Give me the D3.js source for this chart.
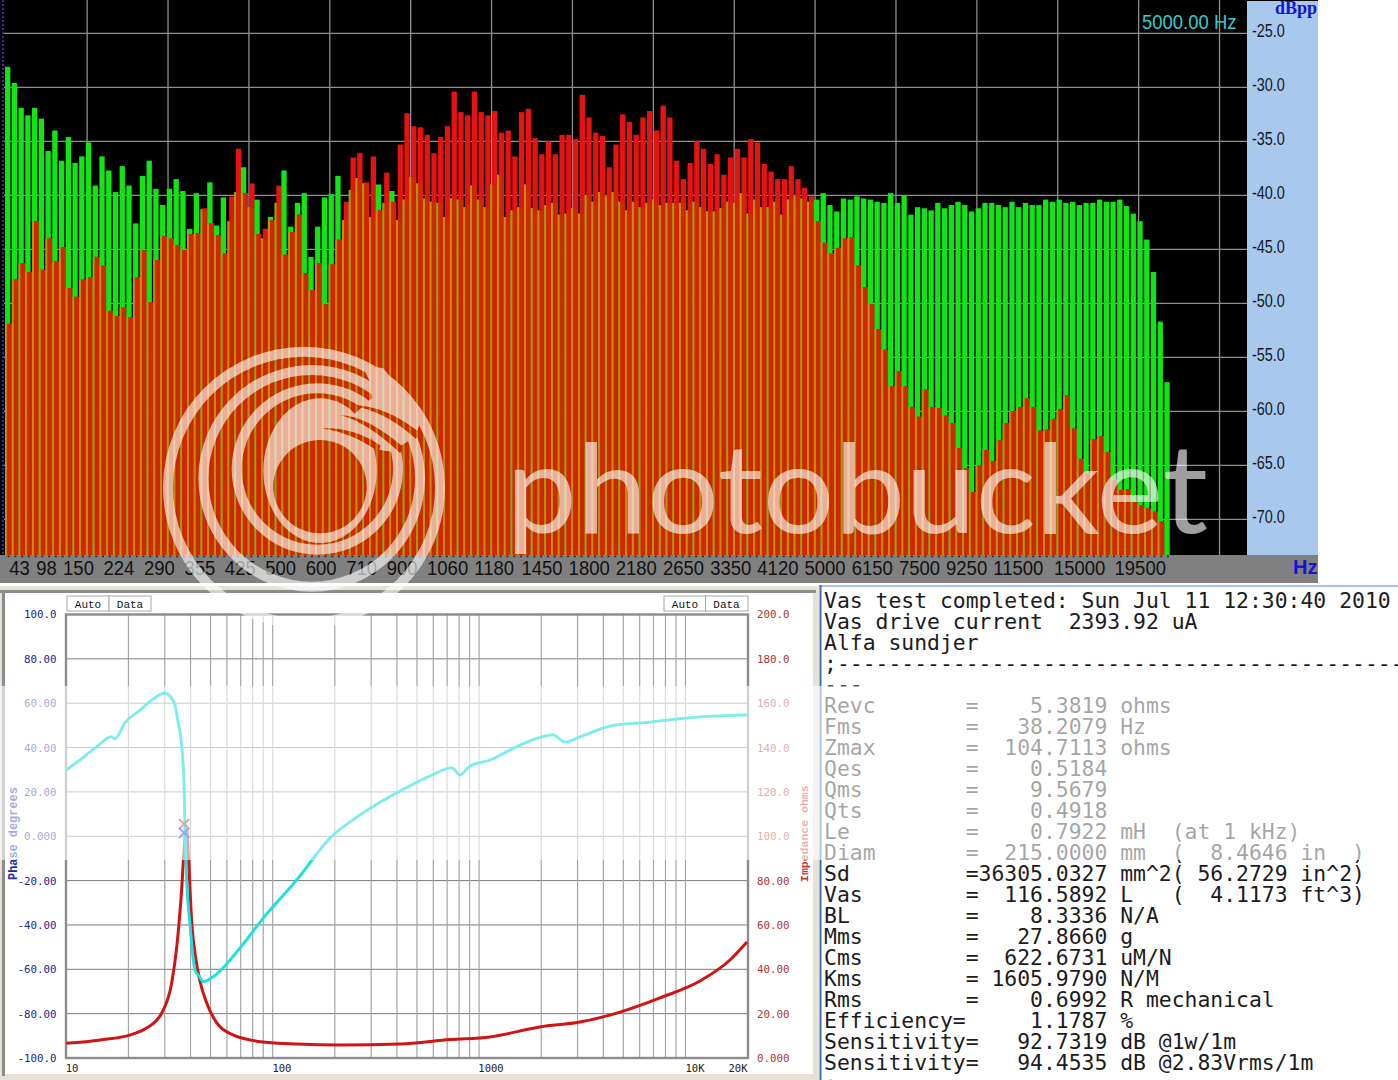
<!DOCTYPE html>
<html>
<head>
<meta charset="utf-8">
<script src="https://cdn.jsdelivr.net/npm/d3@7"></script>
<style>
  html, body { margin: 0; padding: 0; background: #fff; }
  svg { display: block; }
  text { white-space: pre; }
</style>
</head>
<body>
<div id="chart"></div>
<script>
// spectrum bars, one value per band, dBpp
const greenDb = [
  -28.1,-29.6,-31.9,-32.6,-31.9,-32.9,-35.9,-34.0,-36.8,-34.6,-37.0,-36.4,-35.1,-39.1,-36.4,-37.7,-39.7,-37.3,-39.1,-42.6,
  -38.2,-36.8,-39.4,-40.9,-39.4,-38.5,-39.6,-43.1,-39.8,-41.3,-38.8,-42.8,-40.2,-42.4,-39.7,-37.4,-41.1,-40.4,-44.0,-42.0,
  -40.7,-37.7,-42.9,-40.7,-39.8,-45.7,-42.9,-40.2,-39.9,-38.2,-42.3,-39.5,-38.4,-38.9,-42.0,-39.0,-40.7,-39.6,-42.3,-40.4,
  -38.3,-38.9,-40.3,-40.6,-40.7,-42.0,-40.3,-40.4,-41.1,-39.1,-40.4,-41.1,-39.0,-38.1,-42.0,-41.4,-41.1,-39.0,-41.2,-41.4,
  -40.9,-40.7,-41.8,-41.7,-41.2,-41.7,-40.0,-40.6,-39.7,-40.1,-39.7,-40.6,-41.4,-40.6,-41.1,-40.7,-40.4,-40.9,-40.7,-40.7,
  -40.7,-41.4,-40.6,-41.1,-41.5,-41.5,-41.2,-40.6,-40.7,-39.8,-41.7,-40.4,-41.1,-41.1,-40.6,-41.8,-40.4,-40.1,-40.3,-40.6,
  -40.4,-39.8,-40.9,-41.5,-40.3,-40.4,-40.1,-40.3,-40.4,-40.6,-40.7,-39.8,-40.7,-40.0,-41.8,-41.1,-41.2,-41.4,-40.7,-41.2,
  -40.9,-40.6,-40.9,-41.5,-41.2,-40.7,-40.7,-40.9,-41.1,-40.6,-41.1,-40.7,-40.9,-40.9,-40.4,-40.6,-40.4,-40.7,-40.6,-40.9,
  -40.7,-40.7,-40.4,-40.6,-40.6,-40.4,-41.0,-41.7,-42.4,-44.1,-47.1,-51.7,-57.3
];
const redDb = [
  -51.9,-47.8,-46.3,-47.1,-42.4,-46.9,-44.0,-46.1,-44.8,-48.6,-49.4,-47.8,-47.6,-45.7,-46.5,-50.7,-51.2,-50.4,-51.3,-47.6,
  -45.1,-49.9,-46.0,-43.8,-44.0,-44.6,-45.1,-43.6,-43.5,-41.2,-42.6,-43.7,-45.4,-40.1,-35.7,-39.8,-38.9,-43.6,-43.1,-42.3,
  -39.1,-45.5,-43.4,-41.8,-47.2,-48.8,-46.3,-50.1,-46.4,-44.1,-40.6,-36.5,-36.1,-38.8,-36.4,-41.4,-37.9,-40.6,-35.3,-32.4,
  -33.6,-33.7,-34.4,-36.1,-34.6,-33.6,-30.4,-32.3,-32.6,-30.4,-32.3,-32.6,-32.2,-34.2,-34.0,-36.4,-32.3,-32.0,-34.7,-36.2,
  -35.0,-36.2,-34.4,-34.4,-34.8,-30.7,-32.8,-34.2,-34.5,-37.4,-35.3,-32.5,-33.2,-34.4,-32.8,-32.2,-34.0,-31.7,-32.8,-36.8,
  -38.5,-37.0,-35.0,-35.7,-37.1,-36.2,-38.1,-36.5,-35.7,-36.5,-34.8,-35.1,-37.1,-37.8,-38.5,-38.5,-37.3,-38.5,-39.3,-40.1,
  -42.4,-44.4,-45.4,-44.9,-44.0,-43.9,-46.5,-48.5,-50.1,-52.4,-54.3,-57.7,-56.3,-57.7,-59.6,-60.5,-58.0,-59.6,-59.7,-60.4,
  -61.1,-63.4,-65.3,-67.5,-65.0,-63.6,-64.6,-62.7,-61.1,-60.0,-59.6,-58.8,-59.6,-61.8,-61.7,-60.7,-59.8,-58.5,-61.6,-64.4,
  -65.7,-62.6,-62.3,-63.8,-66.4,-67.3,-67.2,-68.4,-68.7,-69.0,-69.3,-70.2,-73.3
];
const floorDb = -73.3;
const dbTicks = [-25,-30,-35,-40,-45,-50,-55,-60,-65,-70];
const hzLabels = ['43','98','150','224','290','355','425','500','600','710','900','1060','1180','1450','1800','2180','2650','3350','4120','5000','6150','7500','9250','11500','15000','19500'];
const hzBand = [0,4,8,14,20,26,32,38,44,50,56,62,69,76,83,90,97,104,111,118,125,132,139,146,155,164];
const gridBand = [12,24,36,48,60,72,84,96,108,120,132,144,156,168,180];

// impedance sweep, log frequency
const phaseFreq = [10,11.65,13.8,16.6,17.2,19.2,22.75,25.4,30.1,31.8,33.6,34.8,36.2,37.2,37.6,38.3,39.7,42,44,46.1,51.5,69.4,90,130.7,189.6,264.8,414,578,739,808,904,1130,1578,2280,2607,3082,4305,6730,11750,19860];
const phaseDeg = [29.9,34.4,39.8,44.9,43.9,51.1,56.9,60.7,64.6,63.2,59.2,51.5,41.1,23.1,2.8,-19.7,-39.1,-60.3,-63,-65.6,-63.3,-50.4,-36.9,-19.7,-0.8,9.6,20.4,27.2,30.8,27.6,31.7,34.4,41.1,45.7,42.5,44.8,49.7,51.5,53.8,54.7];
const impFreq = [10,14.6,21,24.5,29,32.4,34.3,36.2,37.2,38.2,38.9,40.6,42.5,44.5,47.9,53.6,64.2,89.7,130.7,212,414,723,1130,1972,3082,4820,7530,11750,16430,19860];
const impOhms = [6.6,8.1,10.8,13.5,20.3,33.8,50.2,75.8,93.8,104.7,93.8,60,44.2,34.4,24.8,15.8,10.4,7.2,6.3,5.9,6.3,8.3,9.5,14,16.2,20.7,27.1,34.7,44.2,52.3];
const phaseLabels = ['100.0','80.00','60.00','40.00','20.00','0.000','-20.00','-40.00','-60.00','-80.00','-100.0'];
const impLabels = ['200.0','180.0','160.0','140.0','120.0','100.0','80.00','60.00','40.00','20.00','0.000'];
const freqLabels = ['10','100','1000','10K','20K'];
const freqLabelAt = [10.66,110.9,1142,11120,17970];
const markerFreq = 37.2;
const markerOhms = 105.5;
const markerDeg = 1.5;

const report = [
  'Vas test completed: Sun Jul 11 12:30:40 2010',
  'Vas drive current  2393.92 uA',
  'Alfa sundjer',
  ';--------------------------------------------',
  '---',
  'Revc       =    5.3819 ohms',
  'Fms        =   38.2079 Hz',
  'Zmax       =  104.7113 ohms',
  'Qes        =    0.5184',
  'Qms        =    9.5679',
  'Qts        =    0.4918',
  'Le         =    0.7922 mH  (at 1 kHz)',
  'Diam       =  215.0000 mm  (  8.4646 in  )',
  'Sd         =36305.0327 mm^2( 56.2729 in^2)',
  'Vas        =  116.5892 L   (  4.1173 ft^3)',
  'BL         =    8.3336 N/A',
  'Mms        =   27.8660 g',
  'Cms        =  622.6731 uM/N',
  'Kms        = 1605.9790 N/M',
  'Rms        =    0.6992 R mechanical',
  'Efficiency=     1.1787 %',
  'Sensitivity=   92.7319 dB @1w/1m',
  'Sensitivity=   94.4535 dB @2.83Vrms/1m',
  ';'
];

const svg = d3.select('#chart').append('svg').attr('width', 1398).attr('height', 1080);
const arial = 'Liberation Sans';
const mono = 'DejaVu Sans Mono';

// ---- top spectrum ----
const barX = d3.scaleLinear().domain([0, 172]).range([7.67, 1167]);
const dbY = d3.scaleLinear().domain([-25, -70]).range([33.3, 519.3]);
const baseY = dbY(floorDb);

svg.append('rect').attr('x', 0).attr('y', 0).attr('width', 1247).attr('height', 555).attr('fill', '#000');
svg.append('rect').attr('x', 1247).attr('y', 0).attr('width', 71).attr('height', 555).attr('fill', '#a8c8ee');
svg.append('rect').attr('x', 0).attr('y', 0).attr('width', 1318).attr('height', 1).attr('fill', '#000');
svg.append('rect').attr('x', 0).attr('y', 555).attr('width', 1318).attr('height', 28).attr('fill', '#808080');

svg.append('g').selectAll('line').data(dbTicks).enter().append('line')
  .attr('x1', 4).attr('x2', 1247)
  .attr('y1', d => dbY(d)).attr('y2', d => dbY(d))
  .attr('stroke', '#8e8e8e').attr('stroke-width', 1.3);
svg.append('g').selectAll('line').data(gridBand).enter().append('line')
  .attr('x1', d => barX(d) - 1.4).attr('x2', d => barX(d) - 1.4)
  .attr('y1', 0).attr('y2', 555)
  .attr('stroke', '#8e8e8e').attr('stroke-width', 1.3);

svg.append('line').attr('x1', 3).attr('x2', 3).attr('y1', 0).attr('y2', 555)
  .attr('stroke', '#4a22a8').attr('stroke-width', 2).attr('stroke-dasharray', '2,2');

const bands = svg.append('g').selectAll('g').data(d3.range(greenDb.length)).enter().append('g');
const barW = 5.3;
const overlapTop = i => Math.max(dbY(greenDb[i]), dbY(redDb[i]));
// green sits 1.7px left of red, only a sliver of it shows where they overlap
bands.append('rect')
  .attr('x', i => barX(i) - barW / 2).attr('width', barW)
  .attr('y', i => dbY(greenDb[i])).attr('height', i => Math.max(0, baseY - dbY(greenDb[i])))
  .attr('fill', '#10e614');
bands.append('rect')
  .attr('x', i => barX(i) - barW / 2 + 1.7).attr('width', barW)
  .attr('y', i => dbY(redDb[i])).attr('height', i => Math.max(0, baseY - dbY(redDb[i])))
  .attr('fill', '#e81212');
bands.append('rect')
  .attr('x', i => barX(i) - barW / 2).attr('width', 2.1)
  .attr('y', overlapTop).attr('height', i => Math.max(0, baseY - overlapTop(i)))
  .attr('fill', '#b8920e');
bands.append('rect')
  .attr('x', i => barX(i) - barW / 2 + 2.1).attr('width', barW - 0.66)
  .attr('y', overlapTop).attr('height', i => Math.max(0, baseY - overlapTop(i)))
  .attr('fill', '#d42400');

// little ticks along the top of the Hz strip
svg.append('g').selectAll('rect').data(d3.range(greenDb.length)).enter().append('rect')
  .attr('x', i => barX(i)).attr('y', 555.5).attr('width', 2).attr('height', 1.8).attr('fill', '#2c2c2c');

svg.append('g').selectAll('text').data(dbTicks).enter().append('text')
  .attr('transform', d => `translate(1252,${dbY(d) + 3.5}) scale(0.8,1)`)
  .attr('font-family', arial).attr('font-size', 18).attr('fill', '#101820')
  .text(d => d.toFixed(1));

svg.append('g').selectAll('text').data(hzLabels).enter().append('text')
  .attr('transform', (d, i) => `translate(${barX(hzBand[i]) + 1.5},575) scale(0.88,1)`)
  .attr('font-family', arial).attr('font-size', 21).attr('fill', '#111')
  .text(d => d);

svg.append('text').attr('transform', 'translate(1142,29) scale(0.88,1)')
  .attr('font-family', arial).attr('font-size', 21).attr('fill', '#38c8c8').text('5000.00 Hz');
svg.append('text').attr('x', 1275).attr('y', 14)
  .attr('font-family', 'Liberation Serif').attr('font-weight', 'bold').attr('font-size', 18).attr('fill', '#1414d8').text('dBpp');
svg.append('text').attr('x', 1293).attr('y', 574)
  .attr('font-family', arial).attr('font-weight', 'bold').attr('font-size', 20).attr('fill', '#1414d8').text('Hz');
svg.append('rect').attr('x', 1318).attr('y', 0).attr('width', 80).attr('height', 584).attr('fill', '#fff');

// ---- bottom impedance panel ----
svg.append('rect').attr('x', 0).attr('y', 586).attr('width', 819).attr('height', 494).attr('fill', '#e6e2d6');
svg.append('rect').attr('x', 5).attr('y', 592).attr('width', 808).attr('height', 482).attr('fill', '#fff');
svg.append('rect').attr('x', 0).attr('y', 590).attr('width', 816).attr('height', 3).attr('fill', '#8c8c8c');
svg.append('rect').attr('x', 2).attr('y', 590).attr('width', 3).attr('height', 486).attr('fill', '#8c8c8c');

const freqX = d3.scaleLog().domain([10, 20000]).range([66.3, 747.6]);
const phaseY = d3.scaleLinear().domain([-100, 100]).range([1058, 614.5]);
const impY = d3.scaleLinear().domain([0, 200]).range([1058, 614.5]);

const freqGrid = freqX.ticks().filter(f => f > 10 && f < 20000);
const plot = svg.append('g');
plot.selectAll('.hgrid').data(d3.range(-80, 100, 20)).enter().append('line')
  .attr('x1', 66).attr('x2', 748)
  .attr('y1', d => phaseY(d)).attr('y2', d => phaseY(d))
  .attr('stroke', '#7c7c7c').attr('stroke-width', 1);
plot.selectAll('.vgrid').data(freqGrid).enter().append('line')
  .attr('x1', d => freqX(d)).attr('x2', d => freqX(d))
  .attr('y1', 614.5).attr('y2', 1058)
  .attr('stroke', '#a4a4a4').attr('stroke-width', 1.2);
plot.append('rect').attr('x', 66).attr('y', 614.5).attr('width', 682).attr('height', 443.5)
  .attr('fill', 'none').attr('stroke', '#8c8c8c').attr('stroke-width', 2.4);

// Auto / Data buttons
[[67, 'Auto'], [109, 'Data'], [664, 'Auto'], [705.5, 'Data']].forEach(([x, label]) => {
  plot.append('rect').attr('x', x).attr('y', 596).attr('width', x % 1 ? 42.5 : 42).attr('height', 15)
    .attr('fill', '#fff').attr('stroke', '#a8a8a8');
  plot.append('text').attr('x', x + 21).attr('y', 607.5).attr('text-anchor', 'middle')
    .attr('font-family', 'Liberation Mono').attr('font-size', 11).attr('fill', '#111').text(label);
});

const phaseAxis = d3.axisLeft(phaseY).tickValues(d3.range(100, -120, -20))
  .tickSize(0).tickPadding(0).tickFormat((d, i) => phaseLabels[i]);
const phaseG = svg.append('g').attr('transform', 'translate(56.5,0)').call(phaseAxis);
phaseG.select('.domain').remove();
phaseG.selectAll('text').attr('font-family', mono).attr('font-size', 10.8).attr('fill', '#262692');

const impAxis = d3.axisRight(impY).tickValues(d3.range(200, -20, -20))
  .tickSize(0).tickPadding(0).tickFormat((d, i) => impLabels[i]);
const impG = svg.append('g').attr('transform', 'translate(757,0)').call(impAxis);
impG.select('.domain').remove();
impG.selectAll('text').attr('font-family', mono).attr('font-size', 10.8).attr('fill', '#b03434');

svg.append('g').selectAll('text').data(freqLabels).enter().append('text')
  .attr('x', (d, i) => freqX(freqLabelAt[i])).attr('y', 1072).attr('text-anchor', 'middle')
  .attr('font-family', mono).attr('font-size', 10.5).attr('fill', '#222')
  .text(d => d);

svg.append('text').attr('transform', 'translate(16.5,880) rotate(-90)')
  .attr('font-family', 'Liberation Mono').attr('font-weight', 'bold').attr('font-size', 11.9).attr('fill', '#2a2a9c').text('Phase degrees');
svg.append('text').attr('transform', 'translate(808,882) rotate(-90)')
  .attr('font-family', 'Liberation Mono').attr('font-weight', 'bold').attr('font-size', 11.5).attr('fill', '#c43838').text('Impedance ohms');

const impLine = d3.line().x((d, i) => freqX(impFreq[i])).y(d => impY(d)).curve(d3.curveMonotoneX);
const phaseLine = d3.line().x((d, i) => freqX(phaseFreq[i])).y(d => phaseY(d)).curve(d3.curveMonotoneX);
svg.append('path').attr('d', impLine(impOhms)).attr('fill', 'none').attr('stroke', '#d01414').attr('stroke-width', 3);
svg.append('path').attr('d', phaseLine(phaseDeg)).attr('fill', 'none').attr('stroke', '#1ee0e0').attr('stroke-width', 2.8);

const cross = d3.symbol().type(d3.symbolTimes).size(70);
svg.append('path').attr('d', cross).attr('transform', `translate(${freqX(markerFreq)},${impY(markerOhms)})`)
  .attr('fill', 'none').attr('stroke', '#d42020').attr('stroke-width', 2);
svg.append('path').attr('d', cross).attr('transform', `translate(${freqX(markerFreq)},${phaseY(markerDeg)})`)
  .attr('fill', 'none').attr('stroke', '#2020d8').attr('stroke-width', 2);

// ---- report text ----
svg.append('rect').attr('x', 819).attr('y', 585).attr('width', 579).attr('height', 2).attr('fill', '#a8c4e4');
svg.append('rect').attr('x', 819.5).attr('y', 585).attr('width', 2).attr('height', 495).attr('fill', '#3c6cb0');
svg.append('g').selectAll('text').data(report).enter().append('text')
  .attr('x', 824).attr('y', (d, i) => 608 + i * 21)
  .attr('font-family', 'DejaVu Sans Mono').attr('font-size', 21.4).attr('fill', '#1c1c1c')
  .text(d => d);

// ---- watermark ----
svg.append('rect').attr('x', 0).attr('y', 686).attr('width', 1398).attr('height', 174).attr('fill', '#fff').attr('opacity', 0.6);
// phase trace stays stronger than the rest under the white band
svg.append('path').attr('d', phaseLine(phaseDeg)).attr('fill', 'none').attr('stroke', '#1ee0e0').attr('stroke-width', 2.8).attr('opacity', 0.3);

// logo: off-centre rings built in a mask, drawn in the crop's 3x coordinates
const mask = svg.append('defs').append('mask').attr('id', 'logo')
  .attr('maskUnits', 'userSpaceOnUse').attr('x', 0).attr('y', 0).attr('width', 1398).attr('height', 1080);
const mg = mask.append('g').attr('transform', 'translate(150,335) scale(0.33333)');
[[462, 458, 423, '#fff'], [462, 458, 393, '#000'], [485, 430, 340, '#fff'], [485, 430, 310, '#000'], [502, 402, 257, '#fff'], [502, 402, 227, '#000']]
  .forEach(([cx, cy, r, fill]) => mg.append('circle').attr('cx', cx).attr('cy', cy).attr('r', r).attr('fill', fill));
mg.append('ellipse').attr('cx', 510).attr('cy', 407).attr('rx', 170).attr('ry', 217).attr('fill', '#fff');
mg.append('path').attr('fill', '#fff')
  .attr('d', 'M635,90 L700,100 L815,250 L795,305 L725,350 L690,345 L610,240 L665,190 L660,140 Z');
mg.append('circle').attr('cx', 510).attr('cy', 455).attr('r', 140).attr('fill', '#000');
['M590,210 Q700,205 808,292 L798,312 Q700,222 590,210 Z',
 'M570,240 Q650,242 762,338 L750,354 Q650,260 570,240 Z',
 'M515,280 Q610,275 692,332 L684,350 Q610,295 515,280 Z']
  .forEach(d => mg.append('path').attr('d', d).attr('fill', '#000'));

const mark = svg.append('g').attr('opacity', 0.62);
mark.append('rect').attr('x', 150).attr('y', 335).attr('width', 310).attr('height', 300).attr('fill', '#fff').attr('mask', 'url(#logo)');
mark.append('text').attr('x', 506).attr('y', 533)
  .attr('font-family', 'Lato').attr('font-size', 124).attr('fill', '#fff')
  .attr('textLength', 702).attr('lengthAdjust', 'spacingAndGlyphs').text('photobucket');
</script>
</body>
</html>
